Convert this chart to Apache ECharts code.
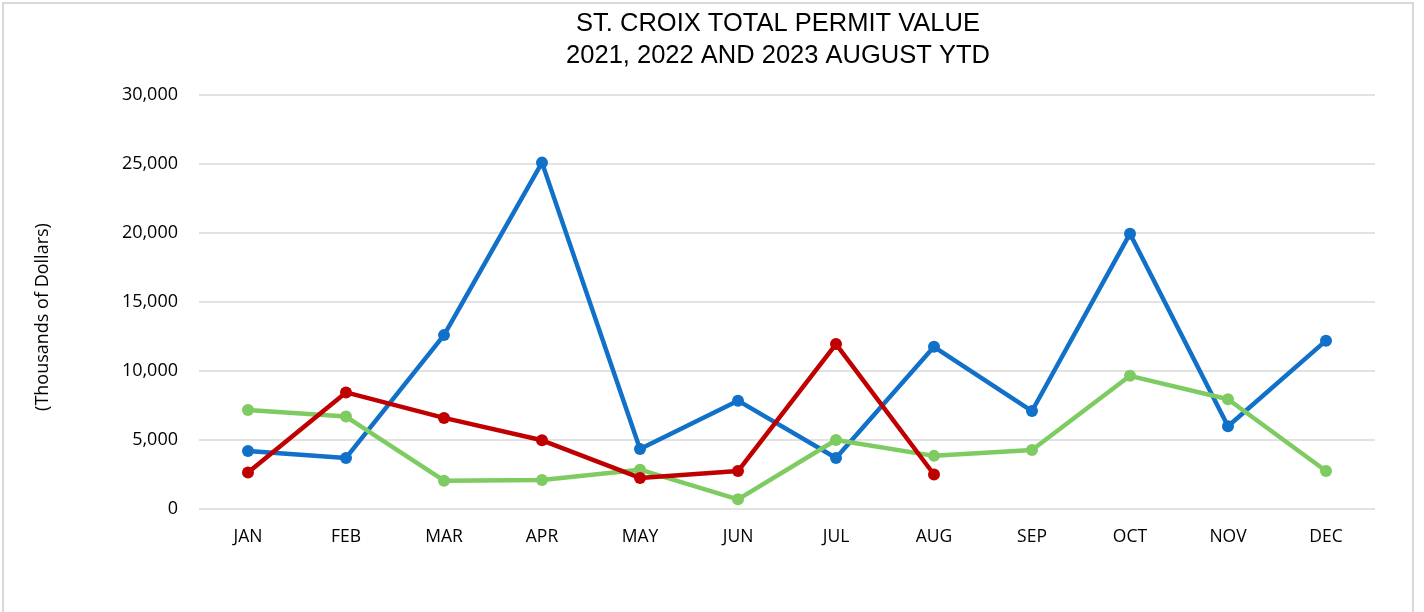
<!DOCTYPE html>
<html>
<head>
<meta charset="utf-8">
<script src="https://cdn.jsdelivr.net/npm/echarts@6/dist/echarts.min.js"></script>
<style>
  html, body { margin: 0; padding: 0; background: #fff; }
  #frame {
    position: absolute; left: 2px; top: 2px;
    width: 1412px; height: 640px;
    border: 2px solid #d9d9d9; box-sizing: border-box;
  }
  #chart { position: absolute; left: 0; top: 0; width: 1424px; height: 612px; }
</style>
</head>
<body>
<div id="frame"></div>
<div id="chart"></div>
<script>
// months
const months = ['JAN', 'FEB', 'MAR', 'APR', 'MAY', 'JUN', 'JUL', 'AUG', 'SEP', 'OCT', 'NOV', 'DEC']
// thousands of dollars
const value2021 = [4200, 3700, 12600, 25100, 4350, 7850, 3700, 11750, 7100, 19950, 6000, 12200]
const value2022 = [7170, 6700, 2050, 2100, 2850, 700, 5000, 3850, 4280, 9650, 7950, 2750]
const value2023 = [2650, 8450, 6600, 4980, 2250, 2750, 11950, 2500]

const font = '"Open Sans", Lato, sans-serif'

const chart = echarts.init(document.getElementById('chart'))

function lineSeries(name, data, color) {
  return {
    name: name,
    type: 'line',
    data: data,
    symbol: 'circle',
    symbolSize: 12,
    lineStyle: { width: 4.5, color: color },
    itemStyle: { color: color },
    emphasis: { disabled: true }
  }
}

chart.setOption({
  animation: false,
  title: {
    text: 'ST. CROIX TOTAL PERMIT VALUE\n2021, 2022 AND 2023 AUGUST YTD',
    left: 773,
    top: 3,
    textAlign: 'center',
    textStyle: {
      fontFamily: 'Liberation Sans, Arial, sans-serif',
      fontWeight: 'normal',
      fontSize: 25.5,
      lineHeight: 32,
      color: '#000'
    }
  },
  grid: { left: 199, right: 49, top: 95, bottom: 103 },
  xAxis: {
    type: 'category',
    data: months,
    boundaryGap: true,
    axisLine: { show: false },
    axisTick: { show: false },
    axisLabel: { margin: 19, fontFamily: font, fontSize: 17.5, color: '#000' }
  },
  yAxis: {
    type: 'value',
    min: 0,
    max: 30000,
    interval: 5000,
    axisLine: { show: false },
    axisTick: { show: false },
    splitLine: { lineStyle: { color: '#d9d9d9', width: 1.5 } },
    axisLabel: {
      margin: 21,
      fontFamily: font,
      fontSize: 18,
      color: '#000',
      formatter: v => v.toLocaleString('en-US')
    }
  },
  graphic: [{
    type: 'text',
    x: 43,
    y: 317,
    rotation: Math.PI / 2,
    style: {
      text: '(Thousands of Dollars)',
      font: '18px ' + font,
      fill: '#000',
      textAlign: 'center',
      textVerticalAlign: 'middle'
    }
  }],
  series: [
    lineSeries('2021', value2021, '#1170c8'),
    lineSeries('2022', value2022, '#7ecb62'),
    lineSeries('2023', value2023, '#c00000')
  ]
})
</script>
</body>
</html>
